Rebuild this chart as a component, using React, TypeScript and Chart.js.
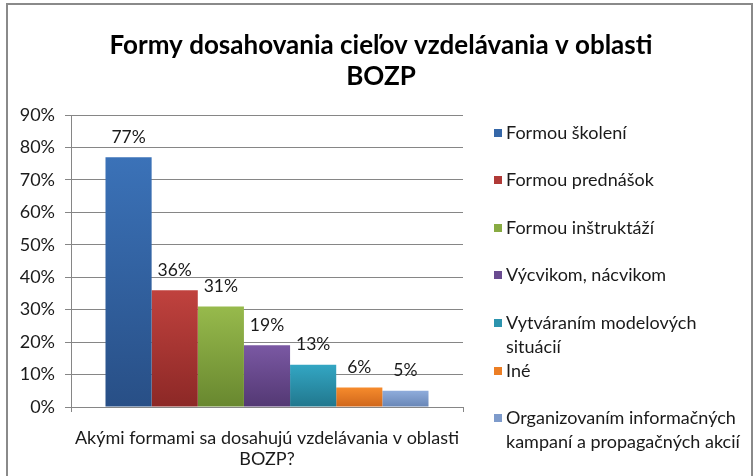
import React, { useEffect, useRef } from 'react';
import { Chart, registerables } from 'chart.js';

Chart.register(...registerables);

const titleLines = ['Formy dosahovania cieľov vzdelávania v oblasti', 'BOZP'];
const categories = [['Akými formami sa dosahujú vzdelávania v oblasti', 'BOZP?']];
const seriesNames = [
  'Formou školení',
  'Formou prednášok',
  'Formou inštruktáží',
  'Výcvikom, nácvikom',
  'Vytváraním modelových situácií',
  'Iné',
  'Organizovaním informačných kampaní a propagačných akcií',
];
const legendLines = [
  ['Formou školení'],
  ['Formou prednášok'],
  ['Formou inštruktáží'],
  ['Výcvikom, nácvikom'],
  ['Vytváraním modelových', 'situácií'],
  ['Iné'],
  ['Organizovaním informačných', 'kampaní a propagačných akcií'],
];
const seriesValues = [77, 36, 31, 19, 13, 6, 5];
const yMax = 90;
const yStep = 10;

const colorsTop = ['#3B72B8', '#C0423E', '#97BA4C', '#7A58A3', '#33A6C3', '#F68B2C', '#8FACDB'];
const colorsBottom = ['#284F86', '#8C2826', '#68872F', '#533873', '#21778D', '#CF661B', '#6886B6'];
const colorsMid = ['#3567A8', '#B03A37', '#88AB42', '#6A4B90', '#2C94AE', '#EC7E24', '#7E9BCB'];

const FONT = 'Lato, "Open Sans", sans-serif';
const GRID = '#868686';
const TEXT = '#1a1a1a';

const decorPlugin = {
  id: 'decor',
  beforeDraw(chart: any) {
    const ctx = chart.ctx;
    ctx.save();
    ctx.fillStyle = '#ffffff';
    ctx.fillRect(0, 0, chart.width, chart.height);
    ctx.strokeStyle = '#8a8a8a';
    ctx.lineWidth = 2;
    ctx.strokeRect(7, 4, 745, 490);
    ctx.restore();
  },
  afterDatasetsDraw(chart: any) {
    const ctx = chart.ctx;
    ctx.save();
    ctx.font = `17.5px ${FONT}`;
    ctx.fillStyle = TEXT;
    ctx.textAlign = 'center';
    ctx.textBaseline = 'middle';
    chart.data.datasets.forEach((ds: any, i: number) => {
      const el = chart.getDatasetMeta(i).data[0];
      if (!el) return;
      ctx.fillText(ds.data[0] + '%', el.x, el.y - 20);
    });
    ctx.restore();
  },
  afterDraw(chart: any) {
    const ctx = chart.ctx;
    ctx.save();
    ctx.font = `bold 26px ${FONT}`;
    ctx.fillStyle = '#000';
    ctx.textAlign = 'center';
    ctx.textBaseline = 'middle';
    titleLines.forEach((t, i) => ctx.fillText(t, 381, 46 + i * 31));
    const ys = [133, 180, 228, 275, 323, 371, 418];
    ctx.font = `18px ${FONT}`;
    ctx.textAlign = 'left';
    legendLines.forEach((lines, i) => {
      const y = ys[i];
      ctx.fillStyle = colorsMid[i];
      ctx.fillRect(494, y - 4, 8, 8);
      ctx.fillStyle = TEXT;
      lines.forEach((l, j) => ctx.fillText(l, 506, y + j * 24));
    });
    ctx.restore();
  },
};

export default function App() {
  const ref = useRef<HTMLCanvasElement | null>(null);
  useEffect(() => {
    if (!ref.current) return;
    const chart = new Chart(ref.current, {
      type: 'bar',
      data: {
        labels: categories as any,
        datasets: seriesNames.map((name, i) => ({
          label: name,
          data: [seriesValues[i]],
          backgroundColor: (c: any) => {
            const ch = c.chart;
            const ys = ch.scales && ch.scales.y;
            if (!ch.chartArea || !ys || c.raw == null) return colorsMid[i];
            const top = ys.getPixelForValue(c.raw);
            const base = ys.getPixelForValue(0);
            const g = ch.ctx.createLinearGradient(0, top, 0, base);
            g.addColorStop(0, colorsTop[i]);
            g.addColorStop(1, colorsBottom[i]);
            return g;
          },
          borderWidth: 0,
          categoryPercentage: 0.824,
          barPercentage: 1,
        })),
      },
      options: {
        animation: false,
        responsive: false,
        maintainAspectRatio: false,
        layout: { padding: { top: 115, right: 292, left: 0, bottom: 0 } },
        plugins: {
          legend: { display: false },
          title: { display: false },
          tooltip: { enabled: false },
        },
        scales: {
          x: {
            afterFit: (s: any) => { s.height = 69; },
            grid: { drawOnChartArea: false, color: GRID, tickLength: 5, offset: true },
            border: { color: GRID },
            ticks: {
              font: { family: FONT, size: 18, lineHeight: 21 / 18 },
              color: TEXT,
              padding: 15.5,
              maxRotation: 0,
              minRotation: 0,
              autoSkip: false,
            },
          },
          y: {
            min: 0,
            max: yMax,
            afterFit: (s: any) => { s.width = 71; },
            grid: { color: GRID, tickLength: 6 },
            border: { color: GRID },
            ticks: {
              stepSize: yStep,
              font: { family: FONT, size: 18 },
              color: TEXT,
              padding: 10,
              callback: (v: any) => v + '%',
            },
          },
        },
      },
      plugins: [decorPlugin],
    });
    return () => chart.destroy();
  }, []);
  return (
    <div style={{ position: 'fixed', left: 0, top: 0, width: 755, height: 476 }}>
      <canvas ref={ref} width={755} height={476} style={{ width: 755, height: 476, display: 'block' }} />
    </div>
  );
}
